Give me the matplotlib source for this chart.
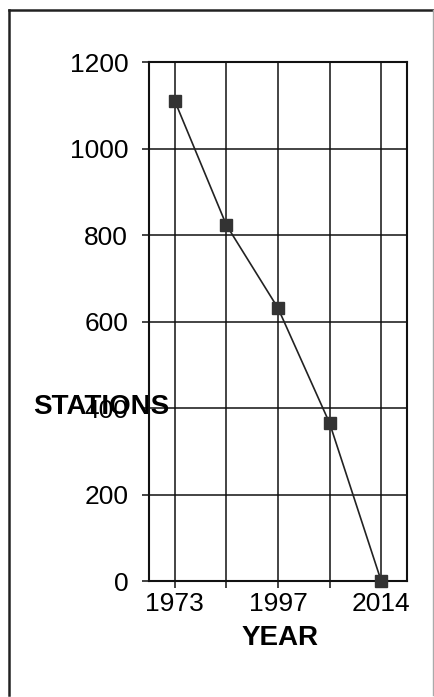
import matplotlib.pyplot as plt
from matplotlib.lines import Line2D

# data
year_labels = ["1973", "", "1997", "", "2014"]
stations = [1110, 823, 631, 365, 0]
y_ticks = [0, 200, 400, 600, 800, 1000, 1200]

plt.rcParams['font.family'] = ['Liberation Sans', 'DejaVu Sans']

fig = plt.figure(figsize=(4.34, 6.97), dpi=100)
ax = fig.add_axes([0.3433, 0.1664, 0.5945, 0.7446])

x = list(range(len(stations)))
ax.plot(x, stations, color='#222222', lw=1.2, marker='s', markersize=8.5,
        markerfacecolor='#333333', markeredgecolor='#333333', clip_on=False, zorder=3)

ax.set_xlim(-0.5, len(stations) - 0.5)
ax.set_ylim(0, 1200)
ax.set_xticks(x)
ax.set_xticklabels(year_labels)
ax.set_yticks(y_ticks)
ax.grid(True, color='#111111', lw=1.1)
for s in ax.spines.values():
    s.set_linewidth(1.5)
    s.set_color('#111111')
ax.tick_params(axis='both', labelsize=19, length=5, width=1.1, color='#111111')
ax.tick_params(axis='x', pad=3)
ax.tick_params(axis='y', pad=10)

ax.set_ylabel("STATIONS", rotation=0, fontsize=20, fontweight='bold', ha='center', va='center')
ax.yaxis.set_label_coords(-0.184, 0.335)
ax.set_xlabel("YEAR", fontsize=20, fontweight='bold', ha='center', va='center')
ax.xaxis.set_label_coords(0.508, -0.110)

# outer frame
fig.add_artist(Line2D([0.021, 0.021], [0.003, 0.986], transform=fig.transFigure, color='#222222', lw=1.8))
fig.add_artist(Line2D([0.021, 0.997], [0.986, 0.986], transform=fig.transFigure, color='#222222', lw=1.8))
fig.add_artist(Line2D([0.997, 0.997], [0.003, 0.986], transform=fig.transFigure, color='#aaaaaa', lw=1.0))

fig.savefig('out.png', dpi=100)
